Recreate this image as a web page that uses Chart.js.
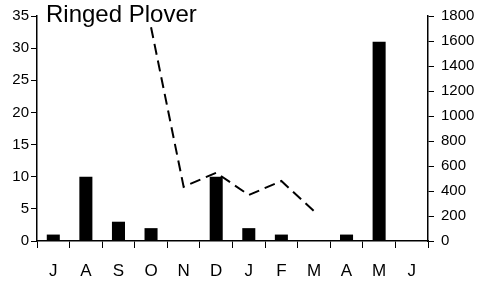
<!DOCTYPE html>
<html>
<head>
<meta charset="utf-8">
<script src="https://cdn.jsdelivr.net/npm/chart.js@4/dist/chart.umd.min.js"></script>
<style>
  html, body { margin: 0; padding: 0; background: #fff; }
  #wrap { width: 496px; height: 287px; position: relative; }
</style>
</head>
<body>
<div id="wrap"><canvas id="chart" width="496" height="287"></canvas></div>
<script>
// months, July to June
const months = ["J", "A", "S", "O", "N", "D", "J", "F", "M", "A", "M", "J"];
// bars, left axis
const barValues = [1, 10, 3, 2, 0, 10, 2, 1, 0, 1, 31, 0];
// dashed line, right axis
const lineValues = [null, null, null, 1710, 434, 546, 368, 480, 240, null, null, null];
const leftTicks = [0, 5, 10, 15, 20, 25, 30, 35];
const rightTicks = [0, 200, 400, 600, 800, 1000, 1200, 1400, 1600, 1800];
const title = "Ringed Plover";

const font = "'Liberation Sans', Arial, sans-serif";

const titlePlugin = {
  id: "titleText",
  afterDraw(chart) {
    const ctx = chart.ctx;
    ctx.save();
    ctx.font = "24px " + font;
    ctx.fillStyle = "#000";
    ctx.textBaseline = "alphabetic";
    ctx.fillText(title, 46, 22);
    ctx.restore();
  },
};

new Chart(document.getElementById("chart").getContext("2d"), {
  data: {
    labels: months,
    datasets: [
      {
        type: "bar",
        data: barValues,
        backgroundColor: "#000",
        borderWidth: 0,
        barPercentage: 0.4,
        categoryPercentage: 1,
        yAxisID: "y",
        order: 2,
      },
      {
        type: "line",
        data: lineValues,
        borderColor: "#000",
        borderWidth: 2,
        borderDash: [11, 6],
        pointRadius: 0,
        tension: 0,
        fill: false,
        yAxisID: "y1",
        order: 1,
      },
    ],
  },
  options: {
    responsive: false,
    animation: false,
    layout: { padding: { top: 16, left: 0, right: 0, bottom: 0 } },
    plugins: { legend: { display: false }, tooltip: { enabled: false } },
    scales: {
      x: {
        offset: true,
        grid: { offset: true, drawOnChartArea: false, color: "#000", tickLength: 7 },
        border: { color: "#000", width: 1.5 },
        ticks: { color: "#000", font: { family: font, size: 17 }, padding: 13, maxRotation: 0 },
        afterFit: (s) => { s.height = 46; },
      },
      y: {
        position: "left",
        min: 0,
        max: 35,
        afterBuildTicks: (s) => { s.ticks = leftTicks.map((v) => ({ value: v })); },
        grid: { drawOnChartArea: false, color: "#000", tickLength: 6 },
        border: { color: "#000", width: 1.5 },
        ticks: { color: "#000", font: { family: font, size: 15 }, padding: 2, callback: (v) => String(v) },
        afterFit: (s) => { s.width = 37; },
      },
      y1: {
        position: "right",
        min: 0,
        max: 1800,
        afterBuildTicks: (s) => { s.ticks = rightTicks.map((v) => ({ value: v })); },
        grid: { drawOnChartArea: false, color: "#000", tickLength: 6 },
        border: { color: "#000", width: 1.5 },
        ticks: { color: "#000", font: { family: font, size: 15 }, padding: 7, callback: (v) => String(v) },
        afterFit: (s) => { s.width = 68; },
      },
    },
  },
  plugins: [titlePlugin],
});
</script>
</body>
</html>
